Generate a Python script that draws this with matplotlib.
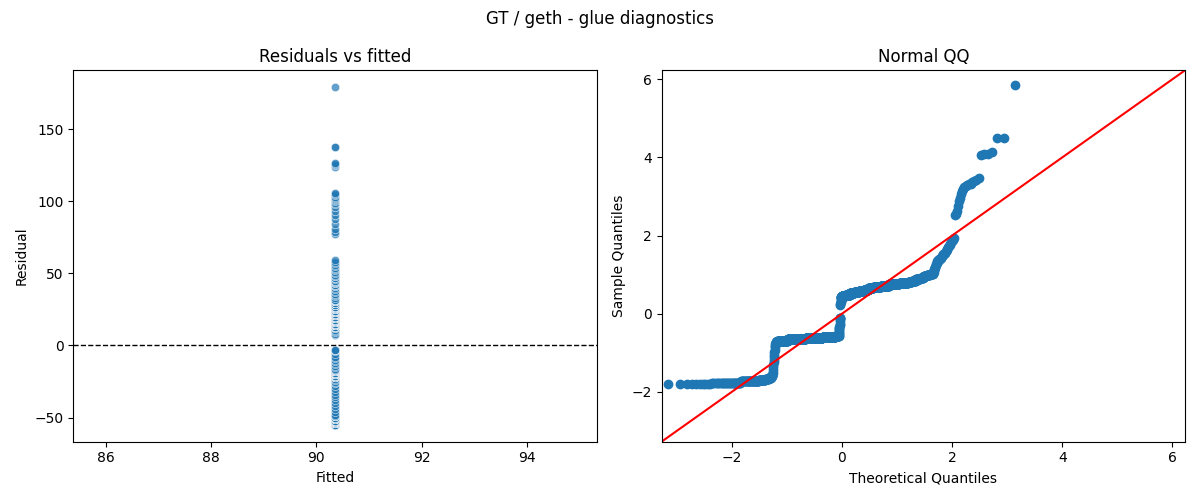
import numpy as np
import matplotlib
matplotlib.use("Agg")
import matplotlib.pyplot as plt
import seaborn as sns
from statistics import NormalDist

fitted_value = 90.36

low_levels = [-55, -54, -53, -52, -51, -50, -49]
low_counts = [10, 30, 40, 20, 12, 8, 5]

rise1_levels = [-48, -46, -44, -42, -40, -38, -36, -34, -32, -30, -28, -26, -25, -24, -23, -22]
rise1_counts = [1] * 16

mid_levels = [-22, -21, -20, -19, -18, -17]
mid_counts = [5, 52, 114, 131, 110, 30]

stem_levels = [-16, -15, -14, -13, -12, -11, -10, -9, -8, -6, -4, -3, 7, 8, 9, 10, 11]
stem_counts = [1, 1, 1, 1, 1, 1, 1, 1, 1, 1, 1, 3, 1, 1, 1, 1, 1]

upper_levels = [12, 13, 14, 15, 16, 17, 18, 19, 20, 21, 22, 23, 24, 25, 26, 27, 28]
upper_counts = [2, 6, 32, 40, 39, 39, 39, 39, 38, 54, 54, 58, 42, 15, 15, 15, 10]

tail_levels = [29.5, 30.5, 31.5, 33, 34, 35, 36, 37, 38, 39, 40,
               41, 42, 43, 44, 45, 46, 47, 48, 49, 50,
               51, 52, 53, 54, 55, 56, 57, 58, 59.5]
tail_counts = [9, 9, 8, 1, 1, 1, 1, 1, 1, 1, 1,
               2, 2, 2, 2, 2, 1, 2, 2, 1, 1,
               1, 1, 1, 1, 1, 1, 1, 1, 1]

high_levels = [77.5, 78.5, 80.5, 84.5, 88, 90.5, 93.5, 96, 98, 99, 100, 101, 101.5,
               102, 103, 104, 105, 106, 124, 125, 125.5, 126.5, 137.4, 179]
high_counts = [1] * 22 + [2, 1]

levels = low_levels + rise1_levels + mid_levels + stem_levels + upper_levels + tail_levels + high_levels
counts = low_counts + rise1_counts + mid_counts + stem_counts + upper_counts + tail_counts + high_counts

resid = np.repeat(np.array(levels, dtype=float), counts)
fitted = np.full(resid.size, fitted_value)

# ---- figure ----
fig, (ax1, ax2) = plt.subplots(1, 2, figsize=(12, 5), dpi=100)

sns.scatterplot(x=fitted, y=resid, alpha=0.7, ax=ax1)
ax1.axhline(0, color="black", linestyle="--", linewidth=1)
ax1.set_title("Residuals vs fitted")
ax1.set_xlabel("Fitted")
ax1.set_ylabel("Residual")

# Normal QQ (statsmodels-style: fit=True, line='45')
n = resid.size
nd = NormalDist()
theo = np.array([nd.inv_cdf(i / (n + 1)) for i in range(1, n + 1)])
loc = resid.mean()
scale = resid.std()
sample = np.sort((resid - loc) / scale)

ax2.set_xmargin(0.02)
ax2.plot(theo, sample, marker="o", linestyle="none", color="C0",
         markerfacecolor="C0", markeredgecolor="C0")
xl = ax2.get_xlim()
yl = ax2.get_ylim()
lo = min(xl[0], yl[0])
hi = max(xl[1], yl[1])
ax2.plot([lo, hi], [lo, hi], "r-")
ax2.set_xlim(lo, hi)
ax2.set_ylim(lo, hi)
ax2.set_xlabel("Theoretical Quantiles")
ax2.set_ylabel("Sample Quantiles")
ax2.set_title("Normal QQ")

fig.suptitle("GT / geth - glue diagnostics")
fig.tight_layout()
fig.savefig("out.png")
